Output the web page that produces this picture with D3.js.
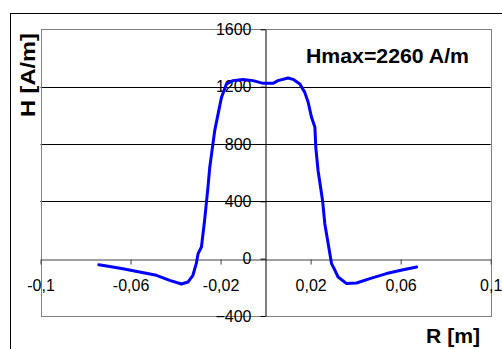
<!DOCTYPE html>
<html>
<head>
<meta charset="utf-8">
<script src="https://cdn.jsdelivr.net/npm/d3@7"></script>
<style>
  body { margin: 0; background: #fff; }
  svg { display: block; font-family: "Liberation Sans", Arial, sans-serif; }
</style>
</head>
<body>
<svg id="chartSVG" width="502" height="349"></svg>
<script>
/* ---------- Data ---------- */
const rValues = [-0.0741, -0.0693, -0.0634, -0.0560, -0.0485, -0.0426, -0.0374, -0.0345, -0.0323, -0.0308,
                 -0.0300, -0.0285, -0.0271, -0.0256, -0.0248, -0.0234, -0.0226, -0.0211, -0.0196, -0.0174,
                 -0.0145, -0.0100, -0.0056, -0.0011, 0.0033, 0.0055, 0.0100, 0.0122, 0.0152, 0.0174,
                 0.0189, 0.0204, 0.0219, 0.0223, 0.0233, 0.0253, 0.0263, 0.0278, 0.0293, 0.0308,
                 0.0322, 0.0360, 0.0404, 0.0463, 0.0537, 0.0611, 0.0671];
const hValues = [-42, -54, -70, -93, -116, -151, -177, -163, -116, -35,
                 35, 81, 267, 499, 638, 801, 893, 1010, 1125, 1219,
                 1242, 1249, 1242, 1223, 1223, 1242, 1260, 1251, 1219, 1160,
                 1091, 986, 916, 777, 615, 406, 244, 104, -35, -81,
                 -128, -174, -170, -139, -104, -77, -58];
const xTicks = [-0.1, -0.06, -0.02, 0.02, 0.06, 0.1];
const yTicks = [-400, 0, 400, 800, 1200, 1600];
const gridValues = [400, 800, 1200];

const chartTitle = "Hmax=2260 A/m";
const xTitle = "R [m]";
const yTitle = "H [A/m]";

/* ---------- Layout ---------- */
const plotLeft = 40.5, plotRight = 490.7, plotTop = 29.3, plotBottom = 316;

var svg = d3.select("#chartSVG");

// outer chart frame (runs off the right and bottom edges)
svg.append("rect")
    .attr("x", 10.5).attr("y", 13.5)
    .attr("width", 520).attr("height", 360)
    .attr("fill", "none").attr("stroke", "#000").attr("stroke-width", 1);

/* ---------- Scales and Axis ---------- */
var xScale = d3.scaleLinear().domain([-0.1, 0.1]).range([plotLeft, plotRight]);
var yScale = d3.scaleLinear().domain([-400, 1600]).range([plotBottom, plotTop]);

// gridlines
svg.append("g").selectAll("line")
    .data(gridValues)
    .join("line")
    .attr("x1", plotLeft).attr("x2", plotRight)
    .attr("y1", d => Math.round(yScale(d)) + 0.5)
    .attr("y2", d => Math.round(yScale(d)) + 0.5)
    .attr("stroke", "#000").attr("stroke-width", 1);

// plot area border
svg.append("rect")
    .attr("x", Math.round(plotLeft) + 0.5).attr("y", Math.round(plotTop) + 0.5)
    .attr("width", Math.round(plotRight) - Math.round(plotLeft))
    .attr("height", Math.round(plotBottom) - Math.round(plotTop))
    .attr("fill", "none").attr("stroke", "#808080").attr("stroke-width", 1);

var fmt = d => String(+d.toFixed(2)).replace(".", ",");

var xAxis = d3.axisBottom(xScale)
    .tickValues(xTicks)
    .tickSize(5)
    .tickPadding(15)
    .tickSizeOuter(0)
    .tickFormat(fmt);
var xAxisG = svg.append("g")
    .attr("transform", "translate(0," + (Math.round(yScale(0)) + 0.5) + ")")
    .call(xAxis);
xAxisG.select(".domain").attr("stroke", "#404040");
xAxisG.selectAll(".tick line").attr("stroke", "#404040");
xAxisG.selectAll("text").attr("font-size", 16).attr("fill", "#000")
    .attr("font-family", "'Liberation Sans', Arial, sans-serif");

var yAxis = d3.axisLeft(yScale)
    .tickValues(yTicks)
    .tickSize(5)
    .tickPadding(9)
    .tickSizeOuter(0)
    .tickFormat(d3.format("d"));
var yAxisG = svg.append("g")
    .attr("transform", "translate(" + (Math.round(xScale(0)) - 0.5) + ",0)")
    .call(yAxis);
yAxisG.select(".domain").attr("stroke", "#000");
yAxisG.selectAll(".tick line").attr("stroke", "#000");
yAxisG.selectAll("text").attr("font-size", 16).attr("fill", "#000")
    .attr("font-family", "'Liberation Sans', Arial, sans-serif");

/* ---------- Data line ---------- */
var points = rValues.map((r, i) => [r, hValues[i]]);
var line = d3.line()
    .x(d => xScale(d[0]))
    .y(d => yScale(d[1]))
    .curve(d3.curveLinear);
svg.append("path")
    .datum(points)
    .attr("d", line)
    .attr("fill", "none")
    .attr("stroke", "#0000ff")
    .attr("stroke-width", 3)
    .attr("stroke-linejoin", "round")
    .attr("stroke-linecap", "round");

/* ---------- Captions ---------- */
svg.append("text")
    .text(chartTitle)
    .attr("x", 306).attr("y", 63.3)
    .attr("font-size", 19.5).attr("font-weight", "bold")
    .attr("textLength", 163).attr("lengthAdjust", "spacingAndGlyphs");

svg.append("text")
    .text(xTitle)
    .attr("x", 426).attr("y", 343.3)
    .attr("font-size", 20).attr("font-weight", "bold")
    .attr("textLength", 54).attr("lengthAdjust", "spacingAndGlyphs");

svg.append("text")
    .text(yTitle)
    .attr("transform", "translate(35,117) rotate(-90)")
    .attr("font-size", 21).attr("font-weight", "bold")
    .attr("textLength", 84).attr("lengthAdjust", "spacingAndGlyphs");
</script>
</body>
</html>
